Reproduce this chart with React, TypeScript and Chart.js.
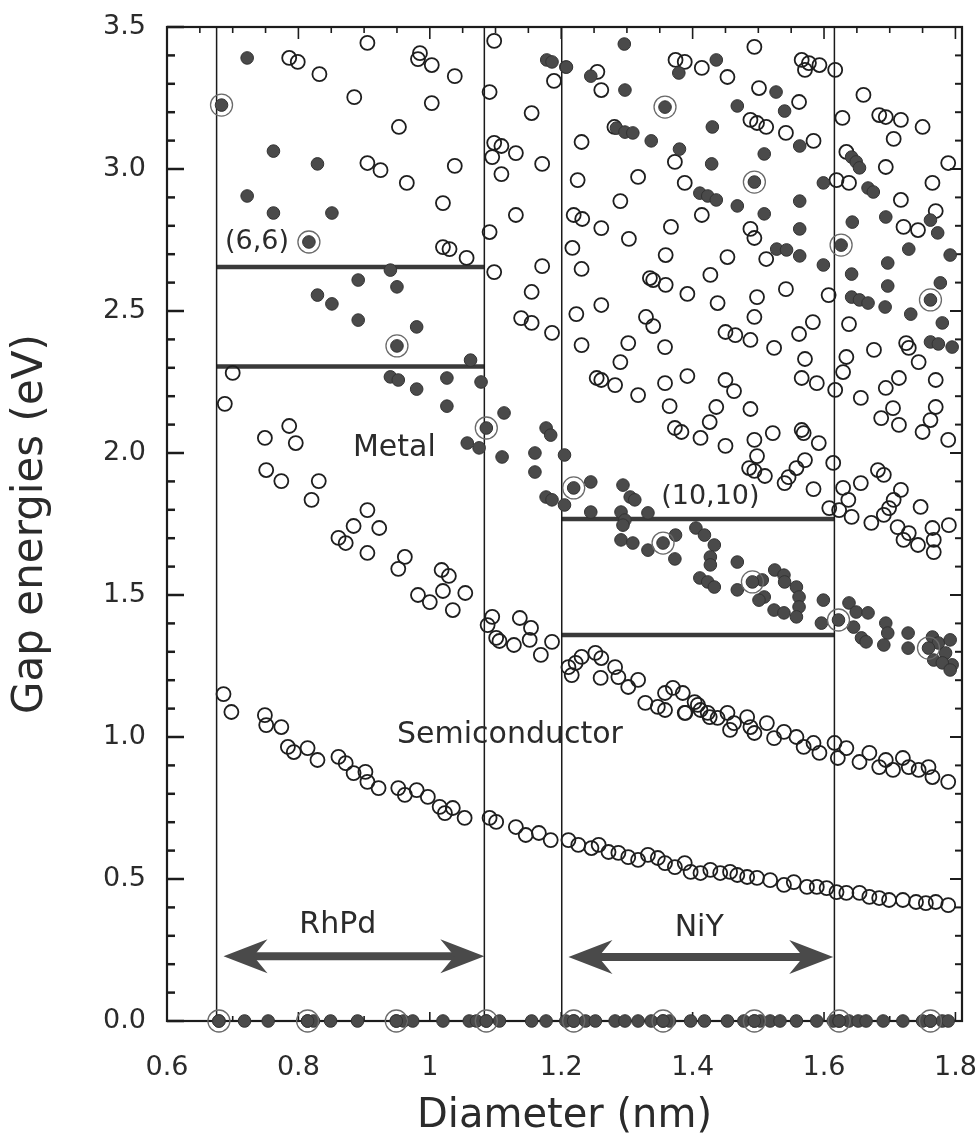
import React, { useEffect, useRef } from "react";
import { Chart, registerables } from "chart.js";

Chart.register(...registerables);

// ---------- axis ticks ----------
const xTickValues = [0.6, 0.8, 1.0, 1.2, 1.4, 1.6, 1.8];
const xTickLabels = ["0.6", "0.8", "1", "1.2", "1.4", "1.6", "1.8"];
const yTickValues = [0, 0.5, 1.0, 1.5, 2.0, 2.5, 3.0, 3.5];
const yTickLabels = ["0.0", "0.5", "1.0", "1.5", "2.0", "2.5", "3.0", "3.5"];

// ---------- data: [diameter nm, gap energy eV] ----------
// lowest semiconducting band (open circles)
const semiE11: number[][] = [
  [0.686, 1.151], [0.698, 1.088], [0.749, 1.077], [0.751, 1.042], [0.774, 1.035],
  [0.784, 0.965], [0.793, 0.947], [0.814, 0.961], [0.829, 0.919], [0.861, 0.93],
  [0.872, 0.908], [0.884, 0.873], [0.902, 0.877], [0.905, 0.842], [0.922, 0.82],
  [0.952, 0.82], [0.962, 0.796], [0.98, 0.813], [0.997, 0.789], [1.015, 0.754],
  [1.023, 0.732], [1.035, 0.75], [1.053, 0.715], [1.091, 0.715], [1.101, 0.701],
  [1.131, 0.683], [1.146, 0.655], [1.166, 0.662], [1.184, 0.637],
  [1.211, 0.637], [1.226, 0.62], [1.246, 0.609], [1.257, 0.62], [1.272, 0.595],
  [1.287, 0.592], [1.302, 0.577], [1.317, 0.567], [1.332, 0.585], [1.347, 0.574],
  [1.358, 0.556], [1.373, 0.542], [1.388, 0.556], [1.397, 0.525], [1.412, 0.521],
  [1.427, 0.532], [1.442, 0.521], [1.457, 0.525], [1.468, 0.514], [1.483, 0.507],
  [1.498, 0.504], [1.518, 0.496], [1.539, 0.479], [1.554, 0.489], [1.574, 0.472],
  [1.589, 0.472], [1.604, 0.468], [1.619, 0.454], [1.634, 0.451], [1.654, 0.451],
  [1.669, 0.437], [1.684, 0.433], [1.699, 0.426], [1.72, 0.426], [1.74, 0.419],
  [1.755, 0.415], [1.77, 0.419], [1.789, 0.408],
];

// second semiconducting band (open circles)
const semiE22: number[][] = [
  [0.7, 2.282], [0.688, 2.173], [0.786, 2.095], [0.749, 2.053], [0.796, 2.035],
  [0.751, 1.94], [0.774, 1.901], [0.831, 1.901], [0.82, 1.835], [0.905, 1.799],
  [0.884, 1.743], [0.923, 1.736], [0.861, 1.701], [0.872, 1.683], [0.905, 1.648],
  [0.962, 1.634], [0.952, 1.592], [1.018, 1.588], [1.029, 1.567], [0.982, 1.5],
  [1.0, 1.475], [1.02, 1.514], [1.054, 1.507], [1.035, 1.447], [1.095, 1.423],
  [1.088, 1.394], [1.101, 1.349], [1.106, 1.338], [1.137, 1.419], [1.154, 1.384],
  [1.128, 1.324], [1.152, 1.342], [1.169, 1.289], [1.186, 1.335],
  [1.211, 1.246], [1.222, 1.261], [1.231, 1.282], [1.252, 1.296], [1.261, 1.278],
  [1.216, 1.218], [1.26, 1.208], [1.282, 1.246], [1.287, 1.211], [1.302, 1.176],
  [1.317, 1.201], [1.358, 1.155], [1.37, 1.173], [1.385, 1.155], [1.389, 1.085],
  [1.403, 1.123], [1.412, 1.095], [1.426, 1.07],
  [1.328, 1.12], [1.347, 1.106], [1.358, 1.095], [1.388, 1.085], [1.408, 1.113],
  [1.423, 1.085], [1.438, 1.067], [1.453, 1.085], [1.463, 1.049], [1.457, 1.025],
  [1.483, 1.07], [1.488, 1.035], [1.494, 1.014], [1.513, 1.049], [1.524, 0.996],
  [1.539, 1.018], [1.558, 1.0], [1.569, 0.965], [1.584, 0.979], [1.593, 0.944],
  [1.616, 0.979], [1.621, 0.926], [1.634, 0.961], [1.654, 0.912], [1.669, 0.944],
  [1.684, 0.894], [1.694, 0.919], [1.705, 0.884], [1.72, 0.926], [1.729, 0.894],
  [1.744, 0.884], [1.759, 0.894], [1.765, 0.859], [1.789, 0.842],
];

// higher semiconducting transitions (open circles)
const semiUpper: number[][] = [
  [0.786, 3.391], [0.799, 3.377], [0.832, 3.334], [0.905, 3.444], [0.985, 3.408],
  [0.982, 3.387], [1.003, 3.366], [1.038, 3.327], [0.885, 3.253], [1.003, 3.232],
  [0.953, 3.148], [0.905, 3.021], [0.925, 2.996], [1.038, 3.011], [0.965, 2.951],
  [1.02, 2.88], [1.02, 2.725], [1.03, 2.718], [1.056, 2.687],
  [1.098, 3.451], [1.189, 3.31], [1.091, 3.271], [1.155, 3.197], [1.098, 3.092],
  [1.109, 3.081], [1.095, 3.042], [1.131, 3.056], [1.171, 3.018], [1.109, 2.982],
  [1.131, 2.838], [1.091, 2.778], [1.098, 2.637], [1.171, 2.658], [1.155, 2.567],
  [1.139, 2.475], [1.155, 2.458], [1.186, 2.423],
  [1.255, 3.342], [1.261, 3.278], [1.374, 3.384], [1.388, 3.377], [1.414, 3.356],
  [1.453, 3.324], [1.494, 3.43], [1.566, 3.384], [1.577, 3.373], [1.593, 3.366],
  [1.571, 3.349], [1.617, 3.349], [1.501, 3.285], [1.562, 3.236], [1.488, 3.173],
  [1.498, 3.162], [1.512, 3.148], [1.542, 3.127], [1.281, 3.148], [1.231, 3.095],
  [1.373, 3.025], [1.584, 3.099], [1.225, 2.961], [1.317, 2.972], [1.388, 2.951],
  [1.619, 2.961], [1.29, 2.887], [1.414, 2.838], [1.219, 2.838], [1.232, 2.824],
  [1.261, 2.792], [1.367, 2.796], [1.303, 2.754], [1.488, 2.789], [1.494, 2.757],
  [1.217, 2.722], [1.359, 2.697], [1.453, 2.69], [1.512, 2.683], [1.231, 2.648],
  [1.427, 2.627], [1.335, 2.616], [1.34, 2.609], [1.359, 2.592], [1.392, 2.56],
  [1.438, 2.528], [1.498, 2.549], [1.542, 2.577], [1.607, 2.556], [1.261, 2.521],
  [1.223, 2.489], [1.329, 2.479], [1.34, 2.447], [1.45, 2.426], [1.465, 2.415],
  [1.494, 2.479], [1.488, 2.398], [1.562, 2.419], [1.583, 2.461], [1.231, 2.38],
  [1.302, 2.387], [1.358, 2.373], [1.524, 2.37], [1.571, 2.331], [1.29, 2.32],
  [1.254, 2.264], [1.261, 2.257], [1.282, 2.239], [1.317, 2.204], [1.358, 2.246],
  [1.392, 2.271], [1.45, 2.257], [1.463, 2.218], [1.566, 2.264], [1.589, 2.246],
  [1.365, 2.165], [1.436, 2.162], [1.488, 2.155], [1.617, 2.222],
  [1.426, 2.109], [1.373, 2.088], [1.383, 2.074], [1.412, 2.053], [1.45, 2.025],
  [1.494, 2.046], [1.522, 2.07], [1.566, 2.081], [1.569, 2.07], [1.592, 2.035],
  [1.498, 1.989], [1.494, 1.937], [1.51, 1.919], [1.571, 1.975], [1.558, 1.947],
  [1.546, 1.915], [1.54, 1.894], [1.584, 1.873], [1.486, 1.947], [1.614, 1.965],
  [1.608, 1.806],
  [1.66, 3.261], [1.628, 3.18], [1.684, 3.19], [1.694, 3.183], [1.717, 3.173],
  [1.75, 3.148], [1.706, 3.106], [1.789, 3.021], [1.634, 3.06], [1.694, 3.007],
  [1.638, 2.951], [1.765, 2.951], [1.717, 2.891], [1.77, 2.852], [1.721, 2.796],
  [1.743, 2.785], [1.638, 2.454], [1.676, 2.363], [1.725, 2.387], [1.729, 2.37],
  [1.744, 2.32], [1.634, 2.338], [1.629, 2.285], [1.694, 2.229], [1.714, 2.264],
  [1.77, 2.257], [1.656, 2.194], [1.77, 2.162], [1.705, 2.158], [1.687, 2.123],
  [1.714, 2.099], [1.75, 2.074], [1.762, 2.116], [1.789, 2.046], [1.656, 1.894],
  [1.629, 1.877], [1.637, 1.835], [1.642, 1.775], [1.623, 1.799], [1.682, 1.94],
  [1.691, 1.923], [1.717, 1.87], [1.706, 1.835], [1.699, 1.806], [1.691, 1.782],
  [1.672, 1.754], [1.747, 1.81], [1.712, 1.739], [1.721, 1.694], [1.743, 1.676],
  [1.765, 1.736], [1.767, 1.694], [1.767, 1.651], [1.79, 1.746], [1.729, 1.718],
];

// metallic tubes, first band (filled circles)
const metalE11: number[][] = [
  [0.94, 2.644], [0.891, 2.609], [0.95, 2.585], [0.829, 2.556], [0.851, 2.525],
  [0.891, 2.468], [0.98, 2.444], [1.062, 2.327], [0.94, 2.268], [0.952, 2.257],
  [1.026, 2.264], [1.078, 2.25], [0.98, 2.225], [1.026, 2.165], [1.113, 2.141],
  [1.057, 2.035], [1.075, 2.018], [1.11, 1.986], [1.177, 2.088], [1.184, 2.063],
  [1.16, 2.0], [1.16, 1.933], [1.205, 1.993], [1.177, 1.845], [1.186, 1.835],
  [1.205, 1.817],
  [1.245, 1.898], [1.245, 1.792], [1.294, 1.887], [1.305, 1.845], [1.312, 1.835],
  [1.291, 1.792], [1.297, 1.764], [1.294, 1.746], [1.332, 1.789], [1.291, 1.694],
  [1.309, 1.683], [1.332, 1.658], [1.374, 1.711], [1.373, 1.627], [1.405, 1.736],
  [1.418, 1.711], [1.433, 1.676], [1.427, 1.634], [1.427, 1.606], [1.411, 1.56],
  [1.423, 1.546], [1.433, 1.528], [1.468, 1.616], [1.468, 1.518], [1.506, 1.553],
  [1.509, 1.493], [1.501, 1.482], [1.525, 1.588], [1.539, 1.57], [1.54, 1.546],
  [1.524, 1.447], [1.539, 1.437], [1.558, 1.528], [1.562, 1.493], [1.562, 1.458],
  [1.558, 1.423], [1.599, 1.482], [1.596, 1.401], [1.638, 1.472], [1.649, 1.44],
  [1.645, 1.387], [1.657, 1.349], [1.664, 1.335], [1.667, 1.437], [1.694, 1.401],
  [1.697, 1.366], [1.691, 1.324], [1.728, 1.366], [1.728, 1.313], [1.765, 1.352],
  [1.774, 1.331], [1.785, 1.296], [1.792, 1.342], [1.795, 1.254], [1.767, 1.271],
  [1.78, 1.261], [1.792, 1.236],
];

// metallic tubes, higher bands (filled circles)
const metalUpper: number[][] = [
  [0.722, 3.391], [0.762, 3.063], [0.829, 3.018], [0.722, 2.905], [0.762, 2.845],
  [0.851, 2.845], [1.178, 3.384], [1.186, 3.377], [1.207, 3.359],
  [1.208, 3.359], [1.296, 3.44], [1.245, 3.327], [1.297, 3.278], [1.379, 3.338],
  [1.436, 3.384], [1.527, 3.271], [1.468, 3.222], [1.54, 3.204], [1.43, 3.148],
  [1.284, 3.144], [1.297, 3.13], [1.309, 3.127], [1.337, 3.099], [1.38, 3.07],
  [1.509, 3.053], [1.563, 3.081], [1.429, 3.018], [1.599, 2.951], [1.411, 2.915],
  [1.423, 2.905], [1.436, 2.891], [1.468, 2.87], [1.563, 2.887], [1.509, 2.842],
  [1.563, 2.789], [1.528, 2.718], [1.543, 2.715], [1.563, 2.694], [1.599, 2.662],
  [1.642, 3.042], [1.649, 3.025], [1.654, 3.004], [1.667, 2.933], [1.675, 2.919],
  [1.694, 2.831], [1.643, 2.813], [1.762, 2.82], [1.773, 2.775], [1.729, 2.718],
  [1.792, 2.697], [1.697, 2.669], [1.642, 2.63], [1.697, 2.588], [1.777, 2.599],
  [1.642, 2.549], [1.654, 2.539], [1.667, 2.528], [1.693, 2.514], [1.732, 2.489],
  [1.78, 2.458], [1.762, 2.391], [1.774, 2.384], [1.795, 2.373],
];

// zero-gap metallic tubes (filled circles on the axis)
const metalZeroD: number[] = [
  0.679, 0.718, 0.754, 0.814, 0.823, 0.849, 0.89, 0.949, 0.96, 0.974, 1.02, 1.06,
  1.071, 1.086, 1.106, 1.155, 1.177, 1.207, 1.219, 1.237, 1.252, 1.282, 1.297,
  1.317, 1.337, 1.355, 1.365, 1.397, 1.418, 1.453, 1.478, 1.494, 1.503, 1.518,
  1.533, 1.558, 1.589, 1.614, 1.623, 1.638, 1.652, 1.664, 1.69, 1.72, 1.75,
  1.762, 1.78, 1.789,
];

// armchair (n,n) tubes, drawn with an extra ring
const armchair: number[][] = [
  [0.683, 3.225], [0.816, 2.743], [0.95, 2.377], [1.086, 2.088], [1.219, 1.877],
  [1.358, 3.218], [1.355, 1.683], [1.494, 2.954], [1.491, 1.546], [1.626, 2.732],
  [1.622, 1.412], [1.762, 2.539], [1.759, 1.313],
  [0.679, 0], [0.814, 0], [0.949, 0], [1.086, 0], [1.219, 0], [1.355, 0],
  [1.494, 0], [1.623, 0], [1.762, 0],
];

// ---------- annotations ----------
const catalystBoundsD = [0.6755, 1.083, 1.2008, 1.6158];
const windowRhPd = { d0: 0.6755, d1: 1.083, e: [2.655, 2.305] };
const windowNiY = { d0: 1.2008, d1: 1.6158, e: [1.768, 1.359] };
const arrowRhPd = { d0: 0.686, d1: 1.083, e: 0.228 };
const arrowNiY = { d0: 1.211, d1: 1.614, e: 0.225 };
const textLabels = [
  { text: "(6,6)", d: 0.737, e: 2.743, size: 27 },
  { text: "Metal", d: 0.946, e: 2.018, size: 30 },
  { text: "(10,10)", d: 1.427, e: 1.845, size: 27 },
  { text: "Semiconductor", d: 1.122, e: 1.007, size: 30 },
  { text: "RhPd", d: 0.86, e: 0.338, size: 30 },
  { text: "NiY", d: 1.41, e: 0.327, size: 30 },
];

const FONT = "'DejaVu Sans', 'Liberation Sans', sans-serif";

const toPts = (arr: number[][]) => arr.map(([x, y]) => ({ x, y }));

const frameAndTicks = {
  id: "frameAndTicks",
  beforeDatasetsDraw(chart: any) {
    const { ctx, chartArea, scales } = chart;
    const { left, right, top, bottom } = chartArea;
    const xs = scales.x;
    const ys = scales.y;
    ctx.save();
    ctx.strokeStyle = "#1c1c1c";
    ctx.lineCap = "butt";
    // y ticks left & right
    for (let i = 0; i <= 35; i++) {
      const v = i / 10;
      const py = ys.getPixelForValue(v);
      const major = i % 5 === 0;
      ctx.lineWidth = 2.5;
      ctx.beginPath();
      ctx.moveTo(left, py);
      ctx.lineTo(left + (major ? 17 : 8), py);
      ctx.stroke();
      ctx.lineWidth = 2;
      ctx.beginPath();
      ctx.moveTo(right, py);
      ctx.lineTo(right - (major ? 12 : 7), py);
      ctx.stroke();
    }
    // x ticks top & bottom
    for (let i = 0; i <= 24; i++) {
      const v = 0.6 + i * 0.05;
      const px = xs.getPixelForValue(v);
      const major = i % 4 === 0;
      ctx.lineWidth = 1.6;
      ctx.beginPath();
      ctx.moveTo(px, top);
      ctx.lineTo(px, top + (major ? 12 : 6));
      ctx.stroke();
      if (i % 2 === 0) {
        ctx.beginPath();
        ctx.moveTo(px, bottom);
        ctx.lineTo(px, bottom - (major ? 9 : 5));
        ctx.stroke();
      }
    }
    // frame
    ctx.lineWidth = 2.2;
    ctx.strokeRect(left, top, right - left, bottom - top);
    ctx.restore();
  },
  afterDatasetsDraw(chart: any) {
    const { ctx, scales } = chart;
    const xs = scales.x;
    const ys = scales.y;
    ctx.save();
    // arrows
    const drawArrow = (a: { d0: number; d1: number; e: number }) => {
      const x0 = xs.getPixelForValue(a.d0);
      const x1 = xs.getPixelForValue(a.d1);
      const y = ys.getPixelForValue(a.e);
      ctx.fillStyle = "#4a4a4a";
      ctx.strokeStyle = "#4a4a4a";
      ctx.lineWidth = 8;
      ctx.beginPath();
      ctx.moveTo(x0 + 20, y);
      ctx.lineTo(x1 - 20, y);
      ctx.stroke();
      const head = (tip: number, dir: number) => {
        ctx.beginPath();
        ctx.moveTo(tip, y);
        ctx.lineTo(tip + dir * 44, y - 17);
        ctx.lineTo(tip + dir * 30, y);
        ctx.lineTo(tip + dir * 44, y + 17);
        ctx.closePath();
        ctx.fill();
      };
      head(x0, 1);
      head(x1, -1);
    };
    drawArrow(arrowRhPd);
    drawArrow(arrowNiY);
    // texts
    ctx.fillStyle = "#2b2b2b";
    ctx.textAlign = "center";
    ctx.textBaseline = "middle";
    for (const t of textLabels) {
      ctx.font = `${t.size}px ${FONT}`;
      ctx.fillText(t.text, xs.getPixelForValue(t.d), ys.getPixelForValue(t.e));
    }
    ctx.restore();
  },
};

function lineDataset(points: { x: number; y: number }[], width: number, color: string) {
  return {
    type: "line" as const,
    data: points,
    showLine: true,
    pointRadius: 0,
    borderColor: color,
    borderWidth: width,
    order: 10,
    fill: false,
  };
}

export default function App() {
  const canvasRef = useRef<HTMLCanvasElement | null>(null);

  useEffect(() => {
    const canvas = canvasRef.current;
    if (!canvas) return;

    const openStyle = {
      pointRadius: 7,
      pointBackgroundColor: "rgba(0,0,0,0)",
      pointBorderColor: "#1e1e1e",
      pointBorderWidth: 1.8,
      showLine: false,
      clip: false as any,
      order: 3,
    };
    const filledStyle = {
      pointRadius: 6.3,
      pointBackgroundColor: "#4a4a4a",
      pointBorderColor: "#333333",
      pointBorderWidth: 1,
      showLine: false,
      clip: false as any,
      order: 2,
    };

    const lines: any[] = [];
    for (const d of catalystBoundsD) {
      lines.push(lineDataset([{ x: d, y: 0 }, { x: d, y: 3.5 }], 1.5, "#1a1a1a"));
    }
    for (const w of [windowRhPd, windowNiY]) {
      for (const e of w.e) {
        lines.push(lineDataset([{ x: w.d0, y: e }, { x: w.d1, y: e }], 4.5, "#3a3a3a"));
      }
    }

    const chart = new Chart(canvas, {
      type: "scatter",
      data: {
        datasets: [
          {
            label: "armchair ring",
            data: toPts(armchair),
            pointRadius: 11,
            pointBackgroundColor: "rgba(0,0,0,0)",
            pointBorderColor: "#6a6a6a",
            pointBorderWidth: 1.3,
            showLine: false,
            clip: false as any,
            order: 0,
          },
          { label: "armchair", data: toPts(armchair), ...filledStyle, order: 1 },
          { label: "metal E11", data: toPts(metalE11), ...filledStyle },
          { label: "metal upper", data: toPts(metalUpper), ...filledStyle },
          { label: "metal zero", data: metalZeroD.map((x) => ({ x, y: 0 })), ...filledStyle },
          { label: "semi E11", data: toPts(semiE11), ...openStyle },
          { label: "semi E22", data: toPts(semiE22), ...openStyle },
          { label: "semi upper", data: toPts(semiUpper), ...openStyle },
          ...lines,
        ],
      },
      options: {
        animation: false,
        responsive: false,
        devicePixelRatio: 1,
        layout: { padding: { top: 27, right: 17, bottom: 0, left: 0 } },
        plugins: {
          legend: { display: false },
          tooltip: { enabled: false },
        },
        scales: {
          x: {
            type: "linear",
            min: 0.6,
            max: 1.81,
            afterBuildTicks: (scale: any) => {
              scale.ticks = xTickValues.map((value) => ({ value }));
            },
            afterFit: (scale: any) => {
              scale.height = 116;
              scale.paddingLeft = 0;
              scale.paddingRight = 0;
            },
            grid: { display: false, drawTicks: false },
            border: { display: false },
            ticks: {
              autoSkip: false,
              maxRotation: 0,
              padding: 31,
              color: "#2b2b2b",
              font: { family: FONT, size: 27 },
              callback: (_v: any, i: number) => xTickLabels[i],
            },
            title: {
              display: true,
              text: "Diameter (nm)",
              color: "#2b2b2b",
              font: { family: FONT, size: 40, lineHeight: 1 },
              padding: { top: 0, bottom: 0 },
            },
          },
          y: {
            type: "linear",
            min: 0,
            max: 3.5,
            afterBuildTicks: (scale: any) => {
              scale.ticks = yTickValues.map((value) => ({ value }));
            },
            afterFit: (scale: any) => {
              scale.width = 167;
              scale.paddingTop = 0;
              scale.paddingBottom = 0;
            },
            grid: { display: false, drawTicks: false },
            border: { display: false },
            ticks: {
              autoSkip: false,
              padding: 21,
              color: "#2b2b2b",
              font: { family: FONT, size: 27 },
              callback: (_v: any, i: number) => yTickLabels[i],
            },
            title: {
              display: true,
              text: "Gap energies (eV)",
              color: "#2b2b2b",
              font: { family: FONT, size: 42, lineHeight: 1 },
              padding: { top: 10, bottom: 0 },
            },
          },
        },
      } as any,
      plugins: [frameAndTicks],
    });

    return () => {
      chart.destroy();
    };
  }, []);

  return (
    <div
      style={{
        position: "absolute",
        left: 0,
        top: 0,
        width: 979,
        height: 1137,
        background: "#ffffff",
      }}
    >
      <canvas ref={canvasRef} width={979} height={1137} style={{ width: 979, height: 1137, display: "block" }} />
    </div>
  );
}
